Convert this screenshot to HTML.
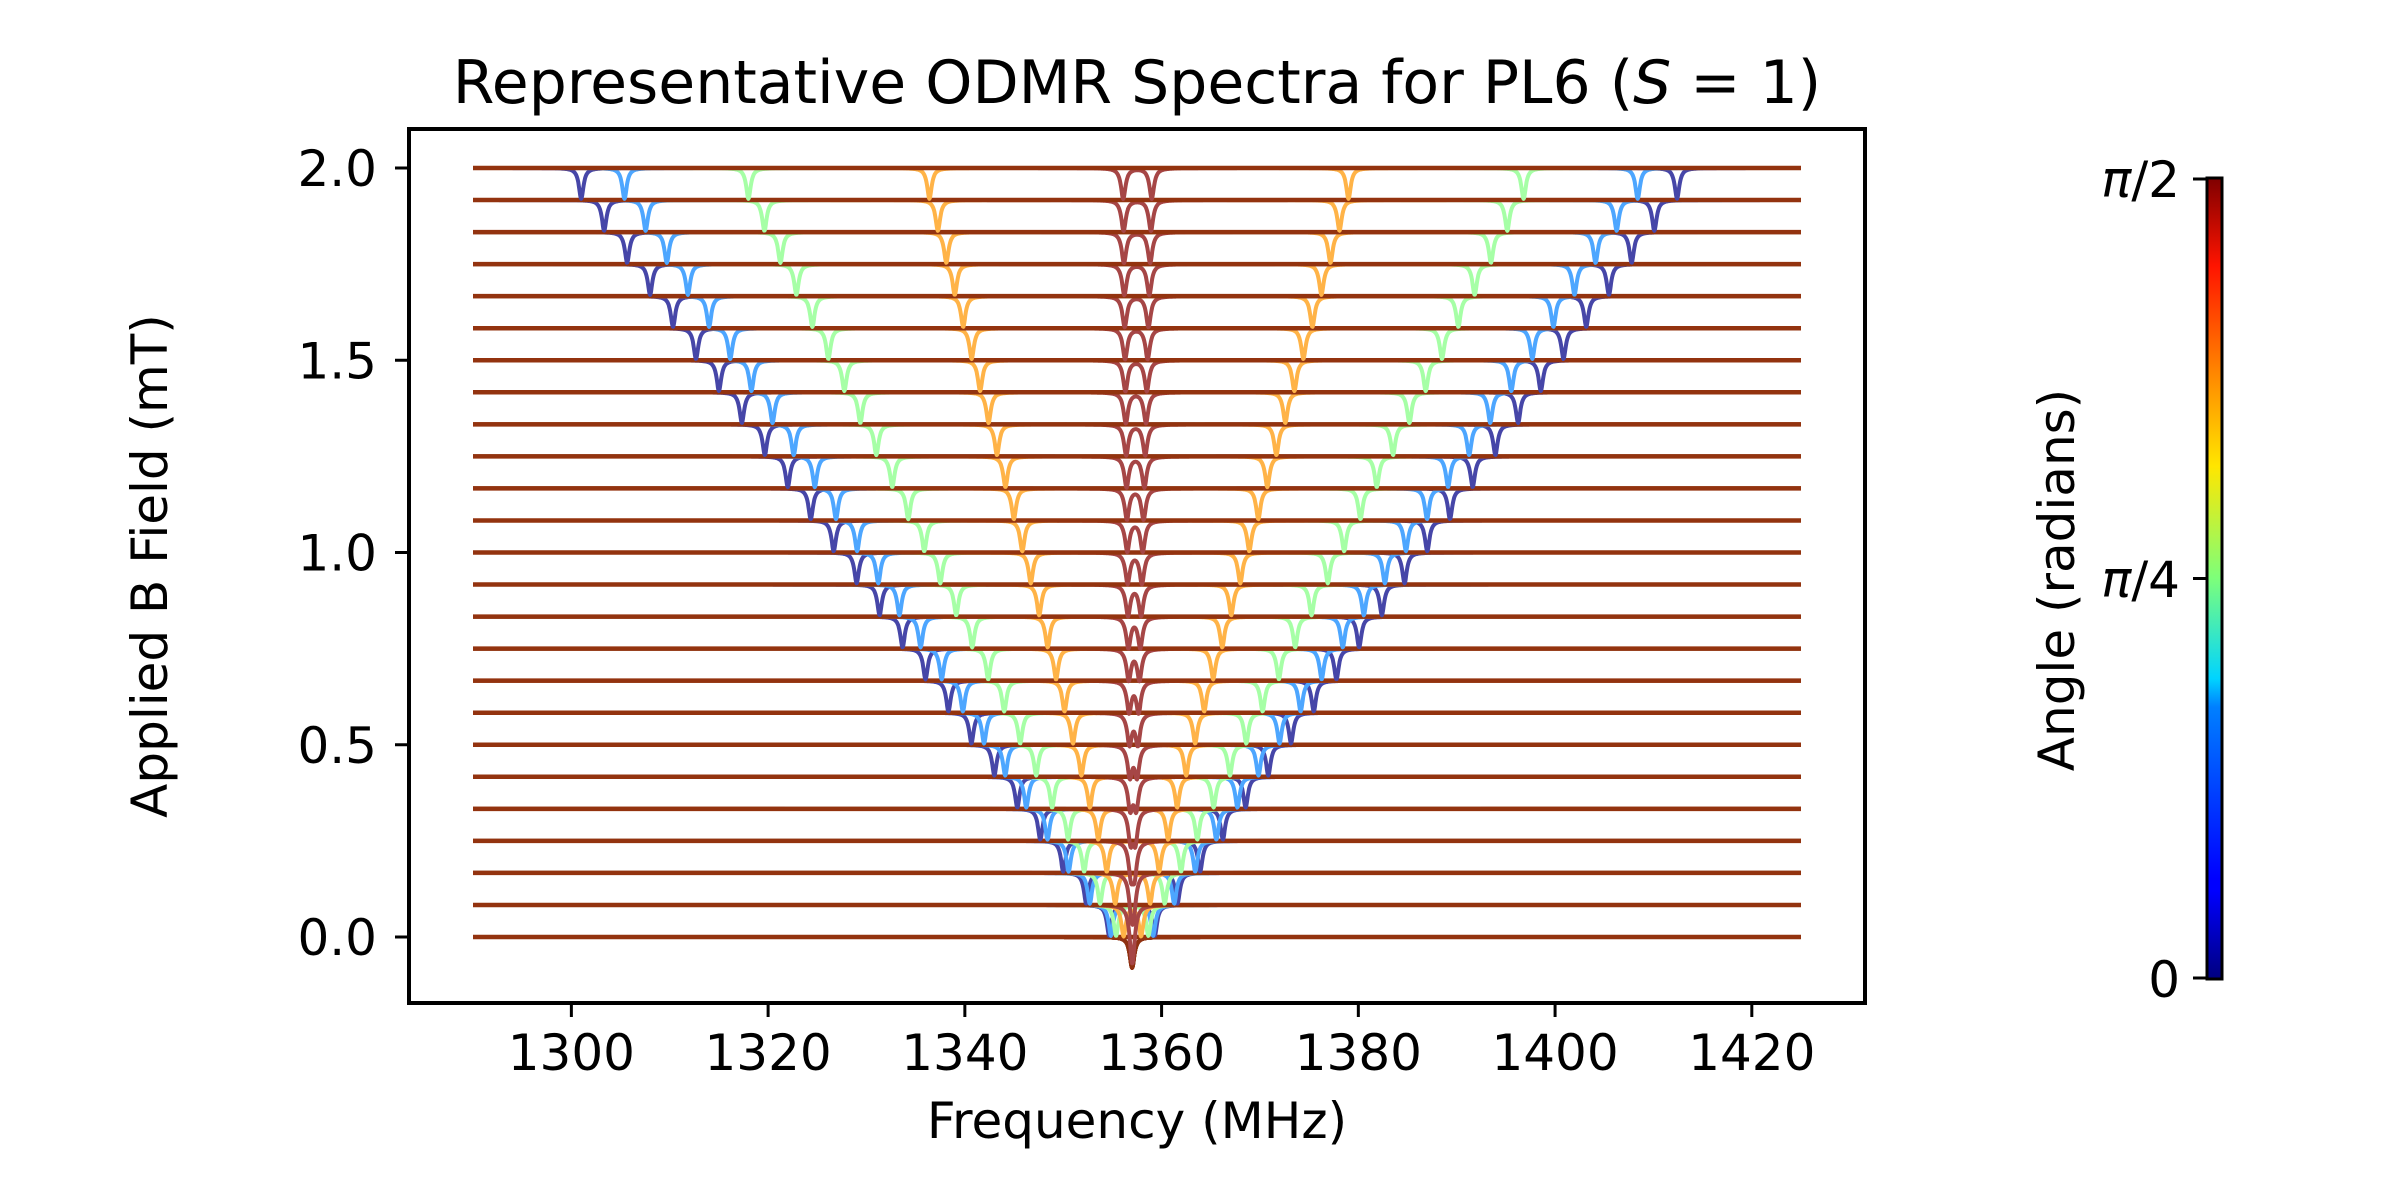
<!DOCTYPE html>
<html>
<head>
<meta charset="utf-8">
<style>
  html, body { margin: 0; padding: 0; background: #ffffff; }
  svg { display: block; }
  text { font-family: "DejaVu Sans", "Liberation Sans", sans-serif; fill: #000; }
</style>
</head>
<body>
<svg id="chart" width="2400" height="1200" viewBox="0 0 2400 1200" xmlns="http://www.w3.org/2000/svg">
  <defs>
    <linearGradient id="jet" x1="0" y1="1" x2="0" y2="0">
      <stop offset="0" stop-color="#00007f"/>
      <stop offset="0.11" stop-color="#0000ff"/>
      <stop offset="0.125" stop-color="#0000ff"/>
      <stop offset="0.34" stop-color="#0080ff"/>
      <stop offset="0.375" stop-color="#00d4ff"/>
      <stop offset="0.5" stop-color="#7dff7a"/>
      <stop offset="0.64" stop-color="#ffe600"/>
      <stop offset="0.75" stop-color="#ff8c00"/>
      <stop offset="0.89" stop-color="#ff1400"/>
      <stop offset="1" stop-color="#7f0000"/>
    </linearGradient>
    <clipPath id="plotclip"><rect x="409" y="129" width="1456" height="874"/></clipPath>
  </defs>
  <rect x="0" y="0" width="2400" height="1200" fill="#fff"/>
  <text x="1137" y="103" font-size="60" text-anchor="middle">Representative ODMR Spectra for PL6 (<tspan font-style="italic">S</tspan> = 1)</text>
  <g id="plot" clip-path="url(#plotclip)"></g>
  <rect x="409" y="129" width="1456" height="874" fill="none" stroke="#000" stroke-width="4"/>
  <g id="xaxis"></g>
  <g id="yaxis"></g>
  <text x="1137" y="1138" font-size="50" text-anchor="middle">Frequency (MHz)</text>
  <text x="0" y="0" font-size="50" text-anchor="middle" transform="translate(167,566) rotate(-90)">Applied B Field (mT)</text>
  <g>
    <rect x="2207" y="178" width="15" height="801" fill="url(#jet)" stroke="#000" stroke-width="3"/>
    <line x1="2193" y1="179" x2="2207" y2="179" stroke="#000" stroke-width="3"/>
    <line x1="2193" y1="578.5" x2="2207" y2="578.5" stroke="#000" stroke-width="3"/>
    <line x1="2193" y1="978" x2="2207" y2="978" stroke="#000" stroke-width="3"/>
    <text x="2180" y="197" font-size="50" text-anchor="end"><tspan font-style="italic">π</tspan>/2</text>
    <text x="2180" y="597" font-size="50" text-anchor="end"><tspan font-style="italic">π</tspan>/4</text>
    <text x="2180" y="997" font-size="50" text-anchor="end">0</text>
    <text x="0" y="0" font-size="50" text-anchor="middle" transform="translate(2074,580) rotate(-90)">Angle (radians)</text>
  </g>
</svg>
<script>
// ---- data ----
const fieldValues = [0, 0.0833, 0.1667, 0.25, 0.3333, 0.4167, 0.5, 0.5833, 0.6667, 0.75, 0.8333, 0.9167, 1.0,
  1.0833, 1.1667, 1.25, 1.3333, 1.4167, 1.5, 1.5833, 1.6667, 1.75, 1.8333, 1.9167, 2.0];
const centerFreq = 1357;
// dip shift per mT for each orientation class (lower and upper branch), MHz/mT
const lowerSlopes = [-28.0, -25.8, -19.5, -10.3, -0.45];
const upperSlopes = [27.7, 25.7, 19.9, 11.0, 1.0];
const classColors = ["#4646a8", "#4da6ff", "#a6ffa6", "#ffb347", "#a64646"];
const dipDepth = 0.08;
const dipWidth = 0.28;
const xTicks = [1300, 1320, 1340, 1360, 1380, 1400, 1420];
const yTicks = [0.0, 0.5, 1.0, 1.5, 2.0];
const yTickLabels = ["0.0", "0.5", "1.0", "1.5", "2.0"];
const freqMin = 1290, freqMax = 1425;

// ---- axes ----
const xScale = f => 473 + (f - 1290) * (1801 - 473) / 135;
const yScale = b => 937 - b * 384.5;
const NS = "http://www.w3.org/2000/svg";
function mk(tag, attrs, parent) {
  const e = document.createElementNS(NS, tag);
  for (const k in attrs) e.setAttribute(k, attrs[k]);
  parent.appendChild(e);
  return e;
}
const plot = document.getElementById('plot');
const xaxis = document.getElementById('xaxis');
const yaxis = document.getElementById('yaxis');

xTicks.forEach(t => {
  const x = xScale(t);
  const l = mk('line', {x1: x, y1: 1003, x2: x, y2: 1017, stroke: '#000', 'stroke-width': 3}, xaxis);
  
  
  const tx = mk('text', {x: x, y: 1070, 'font-size': 50, 'text-anchor': 'middle'}, xaxis);
  
  
  tx.textContent = String(t);
});
yTicks.forEach((t, i) => {
  const y = yScale(t);
  const l = mk('line', {x1: 395, y1: y, x2: 409, y2: y, stroke: '#000', 'stroke-width': 3}, yaxis);
  
  
  const tx = mk('text', {x: 377, y: y + 18, 'font-size': 50, 'text-anchor': 'end'}, yaxis);
  
  
  tx.textContent = yTickLabels[i];
});

// ---- spectra ----
function lor(f, f0) { const u = (f - f0) / dipWidth; return 1 / (1 + u * u); }
fieldValues.forEach((b, ri) => {
  const g = mk('g', {}, plot);
  
  
  for (let c = 0; c < classColors.length; c++) {
    const fa = centerFreq + lowerSlopes[c] * b;
    const fb = centerFreq + upperSlopes[c] * b;
    let d = '';
    for (let f = freqMin; f <= freqMax + 1e-9; f += 0.05) {
      const v = b - dipDepth * (lor(f, fa) + lor(f, fb)) / (b === 0 ? 2 : 1);
      d += (d ? 'L' : 'M') + xScale(f).toFixed(1) + ',' + yScale(v).toFixed(1);
    }
    const p = mk('path', {d: d, fill: 'none', stroke: ri === 0 ? '#8f3010' : classColors[c], 'stroke-width': 4, 'stroke-linejoin': 'round'}, g);
    
    
  }
  const bl = mk('line', {x1: xScale(freqMin), y1: yScale(b), x2: xScale(freqMax), y2: yScale(b), stroke: '#93330f', 'stroke-width': 4.5}, g);
  
  
});
</script>
</body>
</html>
